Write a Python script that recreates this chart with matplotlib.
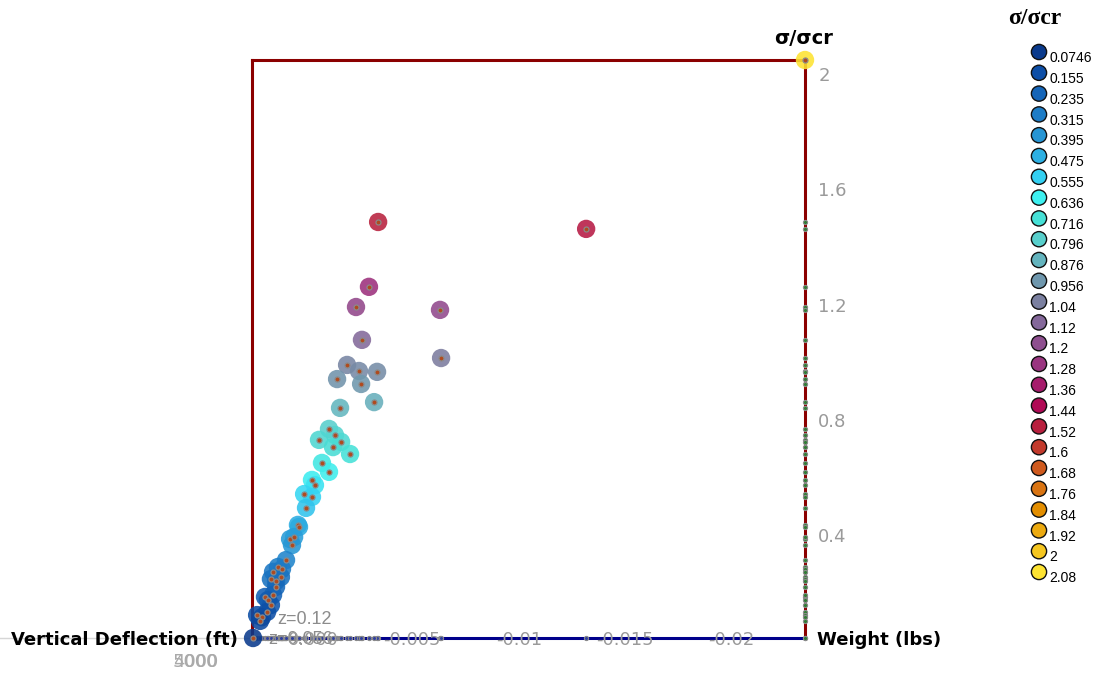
import numpy as np
import matplotlib.pyplot as plt
from matplotlib.colors import LinearSegmentedColormap, Normalize
from matplotlib.lines import Line2D

# weight (lbs) and sigma/sigma_cr of each point
weight = [-0.02346, -0.00339, -0.01317, -0.00296, -0.00235, -0.00630, -0.00263, -0.00635,
          -0.00193, -0.00249, -0.00334, -0.00146, -0.00259, -0.00320, -0.00160, -0.00108,
          -0.00136, -0.00061, -0.00165, -0.00127, -0.00207, -0.00075, -0.00108, -0.00028,
          -0.00042, 0.00009, -0.00028, 0.0, 0.00038, 0.00033, 0.00075, 0.00056,
          0.00066, 0.00094, 0.00132, 0.00113, 0.00155, 0.00118, 0.00165, 0.00141,
          0.00141, 0.00193, 0.00155, 0.00179, 0.00165, 0.00183, 0.00230, 0.00207,
          0.00216, 0.00249]
sigma = [2.08, 1.518, 1.494, 1.293, 1.223, 1.213, 1.109, 1.046,
         1.022, 1.001, 0.998, 0.973, 0.956, 0.893, 0.873, 0.800,
         0.779, 0.762, 0.755, 0.737, 0.713, 0.682, 0.651, 0.623,
         0.605, 0.574, 0.564, 0.526, 0.467, 0.460, 0.418, 0.425,
         0.397, 0.345, 0.321, 0.314, 0.304, 0.286, 0.279, 0.272,
         0.252, 0.217, 0.224, 0.206, 0.189, 0.165, 0.154, 0.147,
         0.134, 0.0746]

legend_values = ['0.0746', '0.155', '0.235', '0.315', '0.395', '0.475', '0.555', '0.636',
                 '0.716', '0.796', '0.876', '0.956', '1.04', '1.12', '1.2', '1.28',
                 '1.36', '1.44', '1.52', '1.6', '1.68', '1.76', '1.84', '1.92', '2', '2.08']
legend_colors = ['#0a3a8c', '#0d4ea6', '#1565b8', '#1d7cc6', '#2695d4', '#2db0e3', '#33d0f2',
                 '#3df0f0', '#45e0d6', '#58cfcc', '#64b4be', '#6f97ad', '#7b80a0', '#84689a',
                 '#8e4f8f', '#9a3580', '#a61c6c', '#b00a55', '#b8203e', '#c23a2c', '#cf5a1e',
                 '#d97412', '#e38e00', '#ecaa10', '#f5c620', '#fde332']

xticks = [0.0, -0.005, -0.01, -0.015, -0.02]
xtick_labels = ['0.000', '-0.005', '-0.01', '-0.015', '-0.02']
yticks = [0.4, 0.8, 1.2, 1.6, 2]
ytick_labels = ['0.4', '0.8', '1.2', '1.6', '2']

cmap = LinearSegmentedColormap.from_list('sig', list(zip(np.linspace(0, 1, len(legend_colors)), legend_colors)))
norm = Normalize(0.0746, 2.08)

W, H = 1096, 673
fig = plt.figure(figsize=(W / 100, H / 100), dpi=100)
ax = fig.add_axes([252 / W, 1 - 638 / H, (805 - 252) / W, (638 - 60) / H])
ax.set_xlim(0.00254, -0.02346)
ax.set_ylim(0.0746, 2.08)
ax.set_xticks([])
ax.set_yticks([])
for side in ['left', 'top', 'right']:
    ax.spines[side].set_color('#8b0000')
    ax.spines[side].set_linewidth(2.2)
ax.spines['bottom'].set_color('#00008b')
ax.spines['bottom'].set_linewidth(2.2)
for sp in ax.spines.values():
    sp.set_zorder(1)

# projections on the walls
ax.scatter(weight, [0.0746] * len(weight), s=9, c='#3040a0', edgecolors='#8a8a8a',
           linewidths=0.8, zorder=2, clip_on=False)
ax.scatter([-0.02346] * len(sigma), sigma, s=9, c='#2e7d32', edgecolors='#8a8a8a',
           linewidths=0.8, zorder=2, clip_on=False)

# main points
ax.scatter(weight, sigma, s=175, c=sigma, cmap=cmap, norm=norm, alpha=0.88,
           edgecolors='none', zorder=3, clip_on=False)
ax.scatter(weight, sigma, s=13, c='#b04a1e', edgecolors='#8a8a8a', linewidths=0.9,
           zorder=4, clip_on=False)

grey = '#9a9a9a'
for v, lbl in zip(xticks[1:], xtick_labels[1:]):
    ax.text(v, -0.004, lbl, transform=ax.get_xaxis_transform(), ha='center', va='center',
            fontsize=13, color=grey, zorder=5)
for v, lbl in zip(yticks, ytick_labels):
    ax.annotate(lbl, (1, v), xycoords=('axes fraction', 'data'), xytext=(9.5, 5),
                textcoords='offset points', ha='left', va='center', fontsize=13, color=grey)

# leftover labels of the collapsed z axis
ax.text(277 / W, 1 - 620 / H, 'z=0.12', transform=fig.transFigure, fontsize=13,
        color='#8c8c8c', va='center', ha='left', family='Liberation Sans')
ax.text(268 / W, 1 - 640 / H, 'z=0.056', transform=fig.transFigure, fontsize=13,
        color='#8c8c8c', va='center', ha='left', family='Liberation Sans', zorder=5)
ax.text(288 / W, 1 - 640 / H, '0.000', transform=fig.transFigure, fontsize=13,
        color='#9a9a9a', va='center', ha='left', zorder=5)
fig.text(173 / W, 1 - 662 / H, '5000', fontsize=13, color='#aaaaaa', va='center', ha='left')
fig.text(173 / W, 1 - 662 / H, '4000', fontsize=13, color='#aaaaaa', va='center', ha='left')

fig.add_artist(Line2D([0, 252 / W], [1 - 638 / H, 1 - 638 / H], color='#d6d6d6', lw=1, zorder=0))

fig.text(238 / W, 1 - 640 / H, 'Vertical Deflection (ft)', fontsize=13, fontweight='bold',
         ha='right', va='center')
fig.text(817 / W, 1 - 640 / H, 'Weight (lbs)', fontsize=13, fontweight='bold',
         ha='left', va='center')
fig.text(804 / W, 1 - 38 / H, 'σ/σcr', fontsize=14, fontweight='bold', ha='center', va='center')

# legend
lax = fig.add_axes([1020 / W, 1 - 572 / H, 76 / W, (572 - 52) / H])
lax.set_xlim(0, 76)
lax.set_ylim(len(legend_values) - 1, 0)
lax.axis('off')
rows = np.arange(len(legend_values))
lax.scatter([19] * len(rows), rows, s=120, c=legend_colors, edgecolors='#111111',
            linewidths=1.0, clip_on=False)
for r, lbl in zip(rows, legend_values):
    lax.text(29, r + 0.3, lbl, fontsize=10, ha='left', va='center', family='Liberation Sans')
fig.text(1035 / W, 1 - 18 / H, 'σ/σcr', fontsize=17, fontweight='bold', ha='center',
         va='center', family='Liberation Serif')

fig.savefig('out.png', dpi=100)
